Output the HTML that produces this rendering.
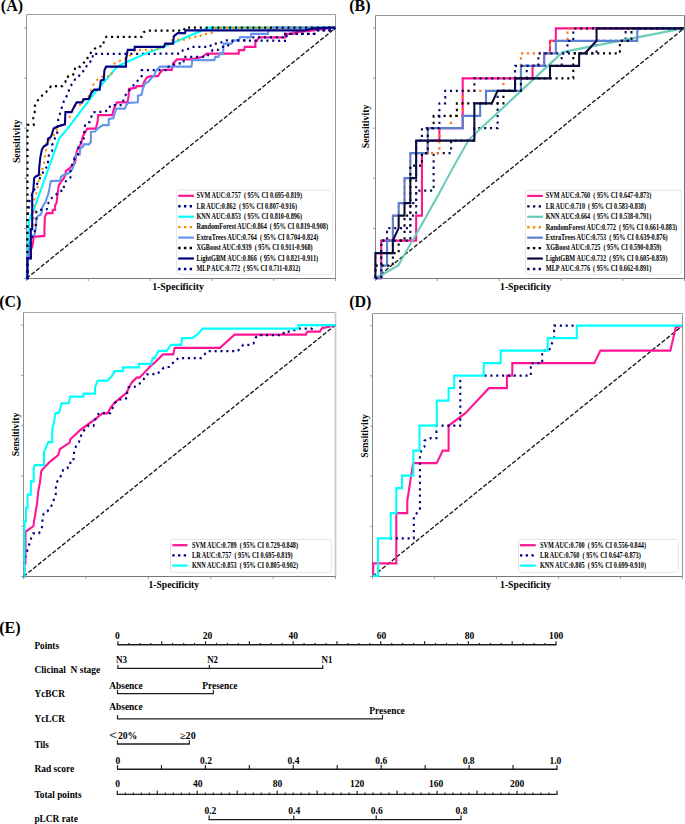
<!DOCTYPE html><html><head><meta charset="utf-8"><style>html,body{margin:0;padding:0;background:#fff;width:685px;height:824px;overflow:hidden}svg{display:block}text{font-family:'Liberation Serif',serif;font-weight:bold}</style></head><body>
<svg width="685" height="824" viewBox="0 0 685 824">
<rect width="685" height="824" fill="#fff"/>
<path d="M26.5,14.5 L335.5,14.5" fill="none" stroke="#a0a0a0" stroke-width="1"/>
<path d="M335.5,14.5 L335.5,278.5" fill="none" stroke="#999" stroke-width="1.0"/>
<path d="M26.5,278.5 L26.5,14.5" fill="none" stroke="#999" stroke-width="1"/>
<path d="M26.5,278.5 L335.5,278.5" fill="none" stroke="#777" stroke-width="1.1"/>
<path d="M24.0,278.50 L26.5,278.50" stroke="#888" stroke-width="0.8"/>
<path d="M24.0,228.40 L26.5,228.40" stroke="#888" stroke-width="0.8"/>
<path d="M24.0,178.30 L26.5,178.30" stroke="#888" stroke-width="0.8"/>
<path d="M24.0,128.20 L26.5,128.20" stroke="#888" stroke-width="0.8"/>
<path d="M24.0,78.10 L26.5,78.10" stroke="#888" stroke-width="0.8"/>
<path d="M24.0,28.00 L26.5,28.00" stroke="#888" stroke-width="0.8"/>
<path d="M26.50,278.5 L26.50,281.0" stroke="#888" stroke-width="0.8"/>
<path d="M88.30,278.5 L88.30,281.0" stroke="#888" stroke-width="0.8"/>
<path d="M150.10,278.5 L150.10,281.0" stroke="#888" stroke-width="0.8"/>
<path d="M211.90,278.5 L211.90,281.0" stroke="#888" stroke-width="0.8"/>
<path d="M273.70,278.5 L273.70,281.0" stroke="#888" stroke-width="0.8"/>
<path d="M335.50,278.5 L335.50,281.0" stroke="#888" stroke-width="0.8"/>
<path d="M26.5,278.5 L335.5,28.0" stroke="#111" stroke-width="1.3" stroke-dasharray="4.3,1.9" fill="none"/>
<path d="M375.5,15.5 L684.5,15.5" fill="none" stroke="#9a9696" stroke-width="1"/>
<path d="M684.5,15.5 L684.5,278.5" fill="none" stroke="#747070" stroke-width="1.0"/>
<path d="M375.5,278.5 L375.5,15.5" fill="none" stroke="#8a8686" stroke-width="1"/>
<path d="M375.5,278.5 L684.5,278.5" fill="none" stroke="#777" stroke-width="1.1"/>
<path d="M373.0,278.50 L375.5,278.50" stroke="#888" stroke-width="0.8"/>
<path d="M373.0,228.40 L375.5,228.40" stroke="#888" stroke-width="0.8"/>
<path d="M373.0,178.30 L375.5,178.30" stroke="#888" stroke-width="0.8"/>
<path d="M373.0,128.20 L375.5,128.20" stroke="#888" stroke-width="0.8"/>
<path d="M373.0,78.10 L375.5,78.10" stroke="#888" stroke-width="0.8"/>
<path d="M373.0,28.00 L375.5,28.00" stroke="#888" stroke-width="0.8"/>
<path d="M375.50,278.5 L375.50,281.0" stroke="#888" stroke-width="0.8"/>
<path d="M437.30,278.5 L437.30,281.0" stroke="#888" stroke-width="0.8"/>
<path d="M499.10,278.5 L499.10,281.0" stroke="#888" stroke-width="0.8"/>
<path d="M560.90,278.5 L560.90,281.0" stroke="#888" stroke-width="0.8"/>
<path d="M622.70,278.5 L622.70,281.0" stroke="#888" stroke-width="0.8"/>
<path d="M684.50,278.5 L684.50,281.0" stroke="#888" stroke-width="0.8"/>
<path d="M375.5,278.5 L684.5,28.0" stroke="#111" stroke-width="1.3" stroke-dasharray="4.3,1.9" fill="none"/>
<path d="M23.5,312.5 L335.5,312.5" fill="none" stroke="#aaa" stroke-width="1"/>
<path d="M335.5,312.5 L335.5,576.5" fill="none" stroke="#cacaca" stroke-width="1.8"/>
<path d="M23.5,576.5 L23.5,312.5" fill="none" stroke="#909090" stroke-width="1"/>
<path d="M23.5,576.5 L335.5,576.5" fill="none" stroke="#777" stroke-width="1.1"/>
<path d="M21.0,576.50 L23.5,576.50" stroke="#888" stroke-width="0.8"/>
<path d="M21.0,526.20 L23.5,526.20" stroke="#888" stroke-width="0.8"/>
<path d="M21.0,475.90 L23.5,475.90" stroke="#888" stroke-width="0.8"/>
<path d="M21.0,425.60 L23.5,425.60" stroke="#888" stroke-width="0.8"/>
<path d="M21.0,375.30 L23.5,375.30" stroke="#888" stroke-width="0.8"/>
<path d="M21.0,325.00 L23.5,325.00" stroke="#888" stroke-width="0.8"/>
<path d="M23.50,576.5 L23.50,579.0" stroke="#888" stroke-width="0.8"/>
<path d="M85.90,576.5 L85.90,579.0" stroke="#888" stroke-width="0.8"/>
<path d="M148.30,576.5 L148.30,579.0" stroke="#888" stroke-width="0.8"/>
<path d="M210.70,576.5 L210.70,579.0" stroke="#888" stroke-width="0.8"/>
<path d="M273.10,576.5 L273.10,579.0" stroke="#888" stroke-width="0.8"/>
<path d="M335.50,576.5 L335.50,579.0" stroke="#888" stroke-width="0.8"/>
<path d="M23.5,576.5 L335.5,325.0" stroke="#111" stroke-width="1.3" stroke-dasharray="4.3,1.9" fill="none"/>
<path d="M372.5,313.5 L682.5,313.5" fill="none" stroke="#999" stroke-width="1"/>
<path d="M682.5,313.5 L682.5,576.5" fill="none" stroke="#999" stroke-width="1.1"/>
<path d="M372.5,576.5 L372.5,313.5" fill="none" stroke="#888" stroke-width="1"/>
<path d="M372.5,576.5 L682.5,576.5" fill="none" stroke="#777" stroke-width="1.1"/>
<path d="M370.0,576.50 L372.5,576.50" stroke="#888" stroke-width="0.8"/>
<path d="M370.0,526.34 L372.5,526.34" stroke="#888" stroke-width="0.8"/>
<path d="M370.0,476.18 L372.5,476.18" stroke="#888" stroke-width="0.8"/>
<path d="M370.0,426.02 L372.5,426.02" stroke="#888" stroke-width="0.8"/>
<path d="M370.0,375.86 L372.5,375.86" stroke="#888" stroke-width="0.8"/>
<path d="M370.0,325.70 L372.5,325.70" stroke="#888" stroke-width="0.8"/>
<path d="M372.50,576.5 L372.50,579.0" stroke="#888" stroke-width="0.8"/>
<path d="M434.50,576.5 L434.50,579.0" stroke="#888" stroke-width="0.8"/>
<path d="M496.50,576.5 L496.50,579.0" stroke="#888" stroke-width="0.8"/>
<path d="M558.50,576.5 L558.50,579.0" stroke="#888" stroke-width="0.8"/>
<path d="M620.50,576.5 L620.50,579.0" stroke="#888" stroke-width="0.8"/>
<path d="M682.50,576.5 L682.50,579.0" stroke="#888" stroke-width="0.8"/>
<path d="M372.5,576.5 L682.5,325.7" stroke="#111" stroke-width="1.3" stroke-dasharray="4.3,1.9" fill="none"/>
<text x="0.8" y="10.6" font-size="16" text-anchor="start" fill="#000">(A)</text>
<text x="349.2" y="10.7" font-size="16" text-anchor="start" fill="#000">(B)</text>
<text x="-0.8" y="306.8" font-size="16" text-anchor="start" fill="#000">(C)</text>
<text x="349.2" y="306.7" font-size="16" text-anchor="start" fill="#000">(D)</text>
<text x="-0.8" y="632.7" font-size="16" text-anchor="start" fill="#000">(E)</text>
<text x="178.0" y="289.7" font-size="10" text-anchor="middle" fill="#000" textLength="51.599999999999994" lengthAdjust="spacingAndGlyphs">1-Specificity</text>
<text x="0" y="0" font-size="10.3" text-anchor="middle" fill="#000" textLength="43.6" lengthAdjust="spacingAndGlyphs" transform="translate(20.3,141.3) rotate(-90)">Sensitivity</text>
<text x="525.6" y="289.7" font-size="10" text-anchor="middle" fill="#000" textLength="51.099999999999994" lengthAdjust="spacingAndGlyphs">1-Specificity</text>
<text x="0" y="0" font-size="10.3" text-anchor="middle" fill="#000" textLength="43.6" lengthAdjust="spacingAndGlyphs" transform="translate(368.5,126.4) rotate(-90)">Sensitivity</text>
<text x="173.8" y="588.3" font-size="10" text-anchor="middle" fill="#000" textLength="50.599999999999994" lengthAdjust="spacingAndGlyphs">1-Specificity</text>
<text x="0" y="0" font-size="10.3" text-anchor="middle" fill="#000" textLength="43.6" lengthAdjust="spacingAndGlyphs" transform="translate(18.6,434.4) rotate(-90)">Sensitivity</text>
<text x="525.6" y="588.3" font-size="10" text-anchor="middle" fill="#000" textLength="51.099999999999994" lengthAdjust="spacingAndGlyphs">1-Specificity</text>
<text x="0" y="0" font-size="10.3" text-anchor="middle" fill="#000" textLength="43.6" lengthAdjust="spacingAndGlyphs" transform="translate(367.8,435.9) rotate(-90)">Sensitivity</text>
<g transform="scale(0.914,1)">
<path d="M407.66,575.8 L408.32,575.8 L408.32,563.3 L433.59,563.3 L433.59,513.2 L445.62,513.2 L445.62,500.7 L451.75,464.5 L452.30,463.2 L477.68,463.2 L484.35,450.7 L490.81,450.7 L490.81,425.7 L509.19,413.2 L534.90,388.1 L554.60,388.1 L554.60,375.6 L560.50,375.6 L560.50,363.1 L650.22,363.1 L656.89,350.6 L733.48,350.6 L739.39,327.3 L746.83,325.6 " stroke="#ff1493" stroke-width="2.25" fill="none" stroke-linejoin="miter" stroke-miterlimit="4"/>
<path d="M426.70,538.3 L452.74,538.3 L452.74,516.2 L459.41,510.0 L459.41,452.8 L464.44,446.7 L464.44,440.6 L471.23,438.2 L477.46,438.2 L477.46,425.7 L503.61,425.7 L503.61,375.6 M530.09,375.6 L580.74,375.6 L580.74,363.1 L593.22,363.1 L593.22,350.6 L600.66,350.6 L606.24,338.1 L606.24,325.6 L631.84,325.6 " stroke="#000080" stroke-width="2.25" stroke-dasharray="2.3,4.1" fill="none" stroke-linejoin="miter"/>
<path d="M407.66,575.8 L413.57,575.8 L413.57,538.3 L427.46,538.3 L427.46,513.2 L433.59,513.2 L433.59,488.2 L439.82,488.2 L439.82,475.7 L452.30,475.7 L452.30,450.7 L458.97,450.7 L458.97,425.7 L477.90,425.7 L477.90,400.7 L490.81,400.7 L490.81,388.1 L496.94,388.1 L496.94,375.6 L529.32,375.6 L529.32,363.1 L547.81,363.1 L547.81,350.6 L599.23,350.6 L599.23,338.1 L631.07,338.1 L631.07,325.6 L746.83,325.6 " stroke="#00ffff" stroke-width="2.25" fill="none" stroke-linejoin="miter" stroke-miterlimit="4"/>
<path d="M25.82,576.0 L26.59,576.0 L26.59,566.0 L27.90,563.0 L27.90,531.6 L29.54,530.7 L33.15,528.4 L36.54,526.2 L37.20,521.3 L38.51,515.2 L39.17,510.4 L40.48,504.3 L41.79,492.1 L43.11,484.9 L43.44,484.1 L45.19,471.0 L48.14,467.7 L54.16,462.2 L63.68,455.1 L65.54,449.1 L76.26,442.6 L76.81,439.3 L87.96,430.0 L103.94,419.3 L111.93,413.4 L117.51,413.4 L121.55,406.9 L125.49,402.5 L138.29,393.0 L143.87,382.8 L149.45,377.7 L152.63,377.7 L156.67,374.0 L165.43,365.3 L169.58,362.4 L178.34,354.4 L189.50,354.4 L191.14,347.8 L240.70,347.8 L256.67,334.7 L334.79,334.7 L336.32,331.6 L350.00,331.6 L352.30,328.2 L359.08,326.8 L367.07,325.0 " stroke="#ff1493" stroke-width="2.25" fill="none" stroke-linejoin="miter" stroke-miterlimit="4"/>
<path d="M25.82,576.0 L26.59,576.0 L26.59,560.0 L29.21,552.9 L30.53,547.4 L32.49,543.2 L34.14,538.1 L36.21,533.4 L42.45,533.4 L45.19,529.8 L46.50,524.9 L46.50,518.3 L47.81,513.4 L52.19,511.0 L55.14,507.3 L57.77,503.7 L59.08,498.8 L61.05,494.0 L61.05,487.9 L62.47,481.9 L64.55,478.0 L67.83,474.8 L69.04,469.9 L73.85,468.3 L75.05,463.3 L80.42,462.0 L80.42,455.1 L81.62,450.2 L83.37,445.9 L86.43,442.0 L88.18,437.7 L89.39,432.8 L93.00,429.5 L96.61,425.7 L102.41,425.8 L103.94,420.7 L105.58,415.6 L108.75,413.1 L120.79,413.1 L125.49,403.2 L128.77,400.0 L139.17,398.1 L139.17,392.3 L140.70,387.2 L147.16,386.9 L155.14,382.0 L158.32,377.7 L160.72,374.3 L171.99,374.1 L179.21,367.6 L185.56,366.8 L188.73,363.2 L195.19,358.1 L219.91,358.1 L227.13,351.2 L259.85,351.2 L266.19,344.9 L272.65,344.8 L277.46,343.4 L279.43,337.9 L282.49,335.1 L308.97,335.1 L311.27,331.6 L318.16,331.6 L326.04,328.5 L341.68,328.5 L345.73,325.0 L367.07,325.0 " stroke="#000080" stroke-width="2.25" stroke-dasharray="2.3,4.1" fill="none" stroke-linejoin="miter"/>
<path d="M25.82,576.0 L26.70,576.0 L26.70,521.3 L28.34,521.3 L28.34,507.5 L30.20,507.5 L30.20,494.6 L33.81,494.6 L33.81,481.4 L36.87,481.4 L36.87,468.8 L37.96,465.0 L48.14,465.0 L48.14,452.4 L50.55,447.0 L52.95,442.0 L57.11,442.0 L57.11,429.5 L58.97,422.9 L60.72,413.1 L64.00,413.1 L65.54,410.4 L67.29,403.3 L75.27,403.2 L76.81,396.6 L91.25,396.6 L91.25,393.7 L103.94,393.7 L103.94,387.2 L106.89,380.6 L117.51,380.6 L122.32,376.2 L125.49,371.1 L134.35,371.1 L134.35,367.4 L151.86,367.4 L151.86,363.8 L165.43,363.8 L167.07,358.0 L169.58,358.1 L173.52,350.8 L182.39,350.8 L187.20,344.9 L198.36,344.9 L199.12,338.1 L210.28,338.1 L216.74,334.0 L221.44,328.7 L326.48,328.6 L326.48,325.0 L367.07,325.0 " stroke="#00ffff" stroke-width="2.25" fill="none" stroke-linejoin="miter" stroke-miterlimit="4"/>
<path d="M29.21,278.0 L29.98,278.0 L29.98,258.0 L33.70,258.0 L33.70,250.0 L35.34,246.6 L36.11,243.0 L36.87,236.9 L48.58,235.9 L48.58,229.1 L49.12,216.5 L51.20,213.1 L57.55,213.1 L57.55,210.2 L60.28,209.7 L60.28,205.3 L61.82,202.9 L63.13,193.4 L64.22,185.7 L66.52,182.1 L69.26,179.0 L71.55,175.0 L72.10,170.9 L75.49,168.8 L82.17,162.7 L83.26,154.5 L84.35,150.4 L88.84,143.3 L90.59,136.1 L93.33,132.0 L95.62,128.5 L104.81,128.5 L106.78,121.5 L107.44,115.1 L122.76,115.1 L124.62,108.7 L127.90,102.3 L139.39,102.3 L140.59,97.0 L141.03,88.9 L148.69,87.7 L149.34,86.0 L156.35,86.0 L157.55,82.0 L160.83,77.2 L165.21,76.1 L172.98,76.1 L174.29,73.7 L177.90,69.9 L187.96,69.9 L189.39,63.4 L193.76,59.4 L209.52,59.4 L221.77,56.8 L226.04,53.5 L261.27,53.5 L261.27,50.2 L267.07,50.2 L267.72,46.9 L279.43,46.9 L279.43,40.8 L281.18,40.8 L283.26,37.3 L312.04,37.3 L312.04,33.9 L321.12,33.9 L321.12,32.5 L342.45,30.4 L366.74,27.5 " stroke="#ff1493" stroke-width="2.25" fill="none" stroke-linejoin="miter" stroke-miterlimit="4"/>
<path d="M29.21,278.0 L29.98,278.0 L29.98,225.0 L30.53,214.6 L31.62,209.7 L31.62,202.9 L33.48,198.0 L36.11,192.0 L39.72,185.7 L43.76,178.0 L49.12,168.8 L52.52,165.8 L52.52,159.6 L53.61,154.5 L57.00,150.9 L57.00,145.3 L60.18,138.0 L63.13,131.5 L63.68,119.3 L65.43,114.2 L67.07,109.0 L68.93,104.0 L70.46,99.3 L73.19,95.8 L74.95,91.7 L76.59,86.6 L79.32,83.5 L82.17,79.4 L85.56,77.4 L88.29,72.8 L92.23,70.7 L94.42,66.6 L96.72,63.1 L101.42,59.7 L101.42,53.9 L197.37,53.7 L200.22,50.2 L205.91,48.9 L209.52,46.9 L228.99,46.9 L232.60,43.7 L239.06,43.7 L246.94,40.4 L270.68,40.4 L270.68,37.3 L312.04,37.3 L312.04,33.9 L345.40,33.9 L346.94,30.4 L364.33,30.4 L366.74,27.5 " stroke="#000080" stroke-width="2.25" stroke-dasharray="2.3,4.1" fill="none" stroke-linejoin="miter"/>
<path d="M29.21,278.0 L29.76,265.0 L30.53,248.5 L31.62,222.3 L33.92,215.0 L36.87,210.0 L64.88,138.2 L73.19,129.5 L102.84,93.7 L128.23,66.7 L139.72,61.5 L160.18,53.3 L181.84,45.7 L222.54,29.9 L228.99,27.5 L366.74,27.5 " stroke="#00ffff" stroke-width="2.25" fill="none" stroke-linejoin="miter" stroke-miterlimit="4"/>
<path d="M29.21,278.0 L29.98,278.0 L29.98,258.0 L33.70,258.0 L33.70,229.0 L36.87,225.0 L36.87,201.5 L38.29,197.0 L40.59,191.8 L41.36,185.7 L42.12,181.0 L44.09,176.0 L45.84,170.9 L47.48,165.3 L49.12,160.1 L49.12,154.0 L50.66,148.9 L50.33,142.3 L54.16,139.7 L58.64,135.6 L60.94,130.5 L67.61,124.4 L73.74,118.8 L77.68,115.7 L81.07,106.0 L86.65,106.0 L93.00,99.3 L96.94,96.5 L102.63,83.7 L109.08,77.2 L115.43,76.1 L121.88,76.1 L122.43,70.2 L122.43,63.8 L128.23,63.2 L132.06,60.3 L141.03,56.8 L144.20,53.3 L147.37,50.4 L153.17,49.8 L166.52,49.8 L181.84,46.9 L187.96,40.4 L195.19,39.7 L201.64,39.7 L205.91,38.4 L212.47,36.8 L218.16,36.8 L221.77,33.8 L228.23,33.8 L232.60,32.5 L236.32,27.5 L366.74,27.5 " stroke="#ff8c00" stroke-width="2.25" stroke-dasharray="2.3,4.1" fill="none" stroke-linejoin="miter"/>
<path d="M29.21,278.0 L29.98,278.0 L29.98,258.0 L31.18,254.0 L31.73,250.0 L33.70,240.0 L35.34,235.9 L37.75,235.0 L39.06,229.1 L40.04,217.5 L42.23,215.5 L44.86,214.5 L45.95,210.7 L46.39,206.8 L49.12,202.9 L50.33,200.5 L53.06,193.4 L55.58,181.1 L65.97,180.6 L66.52,177.0 L69.26,175.0 L73.19,173.9 L74.95,173.0 L78.77,169.9 L81.07,164.5 L81.07,157.6 L83.81,154.5 L87.20,154.5 L87.75,148.4 L91.14,146.3 L91.14,144.3 L97.26,144.3 L99.45,142.0 L99.45,132.0 L104.27,131.5 L106.13,129.0 L112.47,125.0 L118.93,125.0 L118.93,119.2 L124.07,118.0 L125.93,112.2 L127.24,108.7 L136.76,108.7 L138.07,105.2 L140.04,102.8 L150.88,102.3 L150.88,95.8 L155.03,94.7 L155.91,90.0 L157.33,86.5 L158.86,83.1 L161.93,82.0 L165.32,78.4 L169.15,74.9 L170.35,71.4 L174.84,66.7 L209.52,66.6 L210.28,60.1 L234.68,60.1 L235.45,56.8 L239.06,56.8 L240.48,53.5 L243.98,53.5 L244.75,43.7 L253.39,43.7 L254.81,40.4 L261.27,40.4 L262.69,37.1 L274.84,37.1 L274.84,33.9 L293.11,33.9 L293.76,30.5 L296.50,27.5 L366.74,27.5 " stroke="#6495ed" stroke-width="2.25" fill="none" stroke-linejoin="miter" stroke-miterlimit="4"/>
<path d="M29.21,278.0 L30.09,278.0 L30.09,124.9 L36.87,124.9 L36.32,118.2 L37.96,113.1 L37.96,106.5 L39.72,101.9 L43.00,98.8 L46.39,95.3 L49.78,92.7 L53.06,89.6 L55.91,86.1 L68.16,86.1 L71.55,82.0 L72.65,76.9 L78.77,75.8 L81.62,72.8 L82.17,67.2 L87.75,66.6 L91.14,63.1 L94.97,60.5 L96.28,56.2 L102.08,49.8 L106.46,46.9 L112.91,45.7 L113.57,41.0 L116.08,36.9 L155.03,36.9 L157.00,32.3 L161.49,30.5 L200.98,30.5 L202.41,27.5 L366.74,27.5 " stroke="#000000" stroke-width="2.25" stroke-dasharray="2.3,4.1" fill="none" stroke-linejoin="miter"/>
<path d="M29.21,278.0 L29.98,278.0 L29.98,258.3 L33.70,258.3 L33.70,229.0 L35.23,229.0 L35.23,193.4 L36.32,191.3 L37.42,178.0 L39.17,176.5 L42.45,175.0 L43.00,166.8 L44.09,157.6 L45.84,149.4 L48.03,146.4 L51.97,144.3 L52.52,138.7 L55.36,137.2 L56.46,135.1 L58.64,128.5 L63.13,126.4 L71.01,124.4 L71.55,112.1 L78.23,112.1 L79.87,109.0 L83.81,102.4 L89.93,102.4 L91.14,99.3 L97.26,98.8 L100.00,92.7 L103.28,89.5 L109.08,89.5 L110.28,80.7 L113.57,79.6 L114.22,70.2 L116.08,66.7 L137.86,66.7 L137.86,59.7 L139.72,49.8 L147.37,49.8 L147.37,46.9 L179.32,46.9 L180.63,43.6 L189.39,43.6 L190.15,36.4 L194.42,33.1 L202.41,33.1 L203.06,30.3 L333.26,30.4 L343.87,28.3 L366.74,27.5 " stroke="#000080" stroke-width="2.25" fill="none" stroke-linejoin="miter" stroke-miterlimit="4"/>
<path d="M29.21,278.0 L29.98,278.0 L29.98,258.0 L33.70,258.0 L33.70,240.0 L36.11,235.0 L39.06,229.1 L40.04,217.5 L39.82,211.2 L45.19,209.7 L51.20,209.2 L52.30,204.4 L54.16,200.0 L58.10,196.9 L61.49,194.4 L64.88,191.3 L69.91,190.3 L69.91,183.6 L73.19,180.1 L77.13,177.5 L77.13,171.0 L79.87,161.2 L82.60,157.6 L85.56,154.0 L85.56,148.0 L87.20,142.8 L91.68,141.2 L91.68,135.1 L93.33,123.9 L98.36,121.8 L100.00,116.7 L101.64,112.2 L114.44,111.6 L118.93,109.9 L120.79,105.2 L133.59,105.2 L134.90,100.5 L136.76,95.8 L139.72,92.4 L145.51,86.0 L148.69,82.5 L152.52,79.0 L155.03,76.1 L155.03,70.2 L183.81,70.2 L184.35,66.6 L193.76,63.4 L200.98,63.4 L200.98,56.8 L226.04,56.8 L228.99,53.5 L232.60,50.2 L239.06,49.6 L242.67,46.9 L248.36,46.9 L251.20,43.7 L255.58,40.4 L313.57,40.8 L313.57,33.9 L345.40,33.9 L346.94,30.4 L364.33,30.4 L366.74,27.5 " stroke="#00008b" stroke-width="2.25" stroke-dasharray="2.3,4.1" fill="none" stroke-linejoin="miter"/>
<path d="M410.72,278.0 L417.09,278.0 L417.09,240.6 L455.30,240.6 L455.30,215.6 L461.66,215.6 L461.66,153.2 L468.03,153.2 L468.03,140.7 L480.77,140.7 L480.77,128.2 L506.24,128.2 L506.24,78.3 L582.65,78.3 L582.65,65.8 L595.38,65.8 L595.38,53.4 L601.75,53.4 L601.75,40.9 L608.12,40.9 L608.12,28.4 L748.21,28.4 " stroke="#ff1493" stroke-width="2.25" fill="none" stroke-linejoin="miter" stroke-miterlimit="4"/>
<path d="M410.72,278.0 L417.09,278.0 L417.09,240.6 L448.93,240.6 L448.93,203.1 L455.30,203.1 L455.30,190.6 L474.40,190.6 L474.40,153.2 L493.50,153.2 L493.50,140.7 L518.97,140.7 L518.97,128.2 L544.44,128.2 L544.44,90.8 L563.54,90.8 L563.54,78.3 L576.28,78.3 L576.28,65.8 L614.49,65.8 L614.49,53.4 L652.69,53.4 L652.69,40.9 L684.53,40.9 L684.53,28.4 L748.21,28.4 " stroke="#0a0a50" stroke-width="2.25" stroke-dasharray="2.3,4.1" fill="none" stroke-linejoin="miter"/>
<path d="M410.83,278.0 L417.51,274.9 L435.78,265.3 L443.44,253.0 L462.58,222.6 L481.40,191.8 L494.20,170.0 L513.13,139.5 L568.93,91.8 L615.21,52.4 L629.10,49.7 L748.91,28.2 " stroke="#6ccbb9" stroke-width="2.25" fill="none" stroke-linejoin="miter" stroke-miterlimit="4"/>
<path d="M410.72,278.0 L410.72,253.0 L429.82,253.0 L429.82,215.6 L436.19,215.6 L436.19,203.1 L442.56,203.1 L442.56,178.2 L448.93,178.2 L448.93,153.2 L480.77,153.2 L480.77,128.2 L493.50,128.2 L493.50,115.8 L506.24,115.8 L506.24,90.8 L550.81,90.8 L550.81,78.3 L569.91,78.3 L569.91,53.4 L601.75,53.4 L601.75,40.9 L620.85,40.9 L620.85,28.4 L748.21,28.4 " stroke="#ff7010" stroke-width="2.25" stroke-dasharray="2.3,4.1" fill="none" stroke-linejoin="miter"/>
<path d="M410.72,278.0 L417.09,278.0 L417.09,265.5 L423.46,265.5 L423.46,240.6 L429.82,240.6 L429.82,215.6 L436.19,215.6 L436.19,203.1 L442.56,203.1 L442.56,178.2 L448.93,178.2 L448.93,153.2 L468.03,153.2 L468.03,128.2 L506.24,128.2 L506.24,115.8 L525.34,115.8 L525.34,103.3 L531.71,103.3 L531.71,90.8 L569.91,90.8 L569.91,65.8 L595.38,65.8 L595.38,53.4 L608.12,53.4 L608.12,40.9 L697.26,40.9 L697.26,28.4 L748.21,28.4 " stroke="#5b7fd0" stroke-width="2.25" fill="none" stroke-linejoin="miter" stroke-miterlimit="4"/>
<path d="M410.72,278.0 L410.72,265.5 L429.82,265.5 L429.82,253.0 L436.19,253.0 L436.19,240.6 L442.56,240.6 L442.56,215.6 L448.93,215.6 L448.93,165.7 L461.66,165.7 L461.66,153.2 L468.03,153.2 L468.03,128.2 L474.40,128.2 L474.40,115.8 L499.87,115.8 L499.87,103.3 L550.81,103.3 L550.81,90.8 L569.91,90.8 L569.91,78.3 L627.22,78.3 L627.22,53.4 L678.16,53.4 L678.16,40.9 L690.90,40.9 L690.90,28.4 L748.21,28.4 " stroke="#000000" stroke-width="2.25" stroke-dasharray="2.3,4.1" fill="none" stroke-linejoin="miter"/>
<path d="M410.72,278.0 L410.72,253.0 L429.82,253.0 L429.82,240.6 L436.19,228.1 L436.19,215.6 L442.56,215.6 L442.56,203.1 L448.93,203.1 L448.93,178.2 L455.30,178.2 L455.30,140.7 L518.97,140.7 L518.97,103.3 L538.07,103.3 L544.44,90.8 L563.54,90.8 L563.54,78.3 L601.75,78.3 L601.75,65.8 L633.59,65.8 L633.59,53.4 L639.96,53.4 L652.69,40.9 L652.69,28.4 L748.21,28.4 " stroke="#0b0b3b" stroke-width="2.25" fill="none" stroke-linejoin="miter" stroke-miterlimit="4"/>
<path d="M410.72,278.0 L417.09,278.0 L417.09,240.6 L423.46,240.6 L423.46,228.1 L448.93,228.1 L448.93,215.6 L455.30,215.6 L455.30,140.7 L461.66,140.7 L461.66,128.2 L480.77,128.2 L480.77,103.3 L487.13,103.3 L487.13,90.8 L518.97,90.8 L518.97,78.3 L563.54,78.3 L563.54,65.8 L589.02,65.8 L589.02,53.4 L620.85,53.4 L620.85,40.9 L627.22,40.9 L627.22,28.4 L748.21,28.4 " stroke="#0a0a60" stroke-width="2.25" stroke-dasharray="2.3,4.1" fill="none" stroke-linejoin="miter"/>
</g>
<rect x="176.7" y="190.0" width="155.7" height="84.39999999999998" rx="2" fill="#fff" stroke="#e4e4e4" stroke-width="1"/>
<path d="M178.2,195.8 L193.9,195.8" stroke="#ff1493" stroke-width="2.2" fill="none"/>
<text x="196.5" y="198.10" font-size="7.6" fill="#000" textLength="105.5" lengthAdjust="spacingAndGlyphs" xml:space="preserve">SVM AUC:0.757  ( 95% CI 0.695-0.819)</text>
<path d="M178.2,206.25 L193.9,206.25" stroke="#000080" stroke-width="2.4" stroke-dasharray="2.4,3.3" fill="none"/>
<text x="196.5" y="208.55" font-size="7.6" fill="#000" textLength="100.5" lengthAdjust="spacingAndGlyphs" xml:space="preserve">LR AUC:0.862  ( 95% CI 0.807-0.916)</text>
<path d="M178.2,216.7 L193.9,216.7" stroke="#00ffff" stroke-width="2.2" fill="none"/>
<text x="196.5" y="219.00" font-size="7.6" fill="#000" textLength="105.5" lengthAdjust="spacingAndGlyphs" xml:space="preserve">KNN AUC:0.853  ( 95% CI 0.810-0.896)</text>
<path d="M178.2,227.15 L193.9,227.15" stroke="#ff8c00" stroke-width="2.4" stroke-dasharray="2.4,3.3" fill="none"/>
<text x="196.5" y="229.45" font-size="7.6" fill="#000" textLength="131.5" lengthAdjust="spacingAndGlyphs" xml:space="preserve">RandomForest AUC:0.864  ( 95% CI 0.819-0.908)</text>
<path d="M178.2,237.6 L193.9,237.6" stroke="#6495ed" stroke-width="2.2" fill="none"/>
<text x="196.5" y="239.90" font-size="7.6" fill="#000" textLength="121.9" lengthAdjust="spacingAndGlyphs" xml:space="preserve">ExtraTrees AUC:0.764  ( 95% CI 0.704-0.824)</text>
<path d="M178.2,248.05 L193.9,248.05" stroke="#000000" stroke-width="2.4" stroke-dasharray="2.4,3.3" fill="none"/>
<text x="196.5" y="250.35" font-size="7.6" fill="#000" textLength="116.2" lengthAdjust="spacingAndGlyphs" xml:space="preserve">XGBoost AUC:0.939  ( 95% CI 0.911-0.968)</text>
<path d="M178.2,258.5 L193.9,258.5" stroke="#000080" stroke-width="2.2" fill="none"/>
<text x="196.5" y="260.80" font-size="7.6" fill="#000" textLength="121.6" lengthAdjust="spacingAndGlyphs" xml:space="preserve">LightGBM AUC:0.866  ( 95% CI 0.821-0.911)</text>
<path d="M178.2,268.95 L193.9,268.95" stroke="#00008b" stroke-width="2.4" stroke-dasharray="2.4,3.3" fill="none"/>
<text x="196.5" y="271.25" font-size="7.6" fill="#000" textLength="103.8" lengthAdjust="spacingAndGlyphs" xml:space="preserve">MLP AUC:0.772  ( 95% CI 0.711-0.832)</text>
<rect x="525.6" y="190.4" width="155.60000000000002" height="83.99999999999997" rx="2" fill="#fff" stroke="#e4e4e4" stroke-width="1"/>
<path d="M527.2,195.9 L542.9,195.9" stroke="#ff1493" stroke-width="2.2" fill="none"/>
<text x="545.8" y="198.20" font-size="7.6" fill="#000" textLength="105.5" lengthAdjust="spacingAndGlyphs" xml:space="preserve">SVM AUC:0.760  ( 95% CI 0.647-0.873)</text>
<path d="M527.2,206.34 L542.9,206.34" stroke="#0a0a50" stroke-width="2.4" stroke-dasharray="2.4,3.3" fill="none"/>
<text x="545.8" y="208.64" font-size="7.6" fill="#000" textLength="100.2" lengthAdjust="spacingAndGlyphs" xml:space="preserve">LR AUC:0.710  ( 95% CI 0.583-0.838)</text>
<path d="M527.2,216.78 L542.9,216.78" stroke="#66cdb8" stroke-width="2.2" fill="none"/>
<text x="545.8" y="219.08" font-size="7.6" fill="#000" textLength="105.5" lengthAdjust="spacingAndGlyphs" xml:space="preserve">KNN AUC:0.664  ( 95% CI 0.538-0.791)</text>
<path d="M527.2,227.22 L542.9,227.22" stroke="#ff8c00" stroke-width="2.4" stroke-dasharray="2.4,3.3" fill="none"/>
<text x="545.8" y="229.52" font-size="7.6" fill="#000" textLength="131.3" lengthAdjust="spacingAndGlyphs" xml:space="preserve">RandomForest AUC:0.772  ( 95% CI 0.661-0.883)</text>
<path d="M527.2,237.66 L542.9,237.66" stroke="#5b7fd0" stroke-width="2.2" fill="none"/>
<text x="545.8" y="239.96" font-size="7.6" fill="#000" textLength="121.9" lengthAdjust="spacingAndGlyphs" xml:space="preserve">ExtraTrees AUC:0.753  ( 95% CI 0.639-0.876)</text>
<path d="M527.2,248.1 L542.9,248.1" stroke="#000000" stroke-width="2.4" stroke-dasharray="2.4,3.3" fill="none"/>
<text x="545.8" y="250.40" font-size="7.6" fill="#000" textLength="115.6" lengthAdjust="spacingAndGlyphs" xml:space="preserve">XGBoost AUC:0.725  ( 95% CI 0.590-0.859)</text>
<path d="M527.2,258.54 L542.9,258.54" stroke="#0b0b3b" stroke-width="2.2" fill="none"/>
<text x="545.8" y="260.84" font-size="7.6" fill="#000" textLength="121.7" lengthAdjust="spacingAndGlyphs" xml:space="preserve">LightGBM AUC:0.732  ( 95% CI 0.605-0.859)</text>
<path d="M527.2,268.98 L542.9,268.98" stroke="#0a0a60" stroke-width="2.4" stroke-dasharray="2.4,3.3" fill="none"/>
<text x="545.8" y="271.28" font-size="7.6" fill="#000" textLength="105.5" lengthAdjust="spacingAndGlyphs" xml:space="preserve">MLP AUC:0.776  ( 95% CI 0.662-0.891)</text>
<rect x="170.5" y="539.4" width="160.8" height="33.0" rx="2" fill="#fff" stroke="#e4e4e4" stroke-width="1"/>
<path d="M172.3,545.2 L187.6,545.2" stroke="#ff1493" stroke-width="2.2" fill="none"/>
<text x="192.0" y="547.50" font-size="7.6" fill="#000" textLength="106.0" lengthAdjust="spacingAndGlyphs" xml:space="preserve">SVM AUC:0.789  ( 95% CI 0.729-0.848)</text>
<path d="M172.3,555.4 L187.6,555.4" stroke="#000080" stroke-width="2.4" stroke-dasharray="2.4,3.3" fill="none"/>
<text x="192.0" y="557.70" font-size="7.6" fill="#000" textLength="100.7" lengthAdjust="spacingAndGlyphs" xml:space="preserve">LR AUC:0.757  ( 95% CI 0.695-0.819)</text>
<path d="M172.3,565.6 L187.6,565.6" stroke="#00ffff" stroke-width="2.2" fill="none"/>
<text x="192.0" y="567.90" font-size="7.6" fill="#000" textLength="106.0" lengthAdjust="spacingAndGlyphs" xml:space="preserve">KNN AUC:0.853  ( 95% CI 0.805-0.902)</text>
<rect x="518.5" y="539.4" width="159.89999999999998" height="33.0" rx="2" fill="#fff" stroke="#e4e4e4" stroke-width="1"/>
<path d="M520.0,545.2 L535.7,545.2" stroke="#ff1493" stroke-width="2.2" fill="none"/>
<text x="540.0" y="547.50" font-size="7.6" fill="#000" textLength="106.0" lengthAdjust="spacingAndGlyphs" xml:space="preserve">SVM AUC:0.700  ( 95% CI 0.556-0.844)</text>
<path d="M520.0,555.4 L535.7,555.4" stroke="#000080" stroke-width="2.4" stroke-dasharray="2.4,3.3" fill="none"/>
<text x="540.0" y="557.70" font-size="7.6" fill="#000" textLength="100.8" lengthAdjust="spacingAndGlyphs" xml:space="preserve">LR AUC:0.760  ( 95% CI 0.647-0.873)</text>
<path d="M520.0,565.6 L535.7,565.6" stroke="#00ffff" stroke-width="2.2" fill="none"/>
<text x="540.0" y="567.90" font-size="7.6" fill="#000" textLength="106.0" lengthAdjust="spacingAndGlyphs" xml:space="preserve">KNN AUC:0.805  ( 95% CI 0.699-0.910)</text>
<text x="34.4" y="648.9" font-size="9.6" fill="#000" textLength="24.6" lengthAdjust="spacingAndGlyphs" xml:space="preserve">Points</text>
<text x="34.4" y="672.6" font-size="9.6" fill="#000" textLength="65.8" lengthAdjust="spacingAndGlyphs" xml:space="preserve">Clicinal  N stage</text>
<text x="34.4" y="696.6" font-size="9.6" fill="#000" textLength="30.6" lengthAdjust="spacingAndGlyphs" xml:space="preserve">YcBCR</text>
<text x="34.4" y="722.0" font-size="9.6" fill="#000" textLength="30.6" lengthAdjust="spacingAndGlyphs" xml:space="preserve">YcLCR</text>
<text x="34.4" y="747.6" font-size="9.6" fill="#000" textLength="14.4" lengthAdjust="spacingAndGlyphs" xml:space="preserve">Tils</text>
<text x="34.4" y="772.1" font-size="9.6" fill="#000" textLength="39.9" lengthAdjust="spacingAndGlyphs" xml:space="preserve">Rad score</text>
<text x="34.4" y="798.1" font-size="9.6" fill="#000" textLength="47.2" lengthAdjust="spacingAndGlyphs" xml:space="preserve">Total points</text>
<text x="34.4" y="821.9" font-size="9.6" fill="#000" textLength="43.4" lengthAdjust="spacingAndGlyphs" xml:space="preserve">pLCR rate</text>
<path d="M117.4,644.75 L556.5,644.75" stroke="#1c1c1c" stroke-width="1.35" fill="none"/>
<path d="M117.90,644.75 L117.90,641.25" stroke="#1c1c1c" stroke-width="1.15" fill="none"/>
<path d="M128.85,644.75 L128.85,642.95" stroke="#1c1c1c" stroke-width="1.15" fill="none"/>
<path d="M139.81,644.75 L139.81,642.95" stroke="#1c1c1c" stroke-width="1.15" fill="none"/>
<path d="M150.76,644.75 L150.76,642.95" stroke="#1c1c1c" stroke-width="1.15" fill="none"/>
<path d="M161.71,644.75 L161.71,641.25" stroke="#1c1c1c" stroke-width="1.15" fill="none"/>
<path d="M172.66,644.75 L172.66,642.95" stroke="#1c1c1c" stroke-width="1.15" fill="none"/>
<path d="M183.62,644.75 L183.62,642.95" stroke="#1c1c1c" stroke-width="1.15" fill="none"/>
<path d="M194.57,644.75 L194.57,642.95" stroke="#1c1c1c" stroke-width="1.15" fill="none"/>
<path d="M205.52,644.75 L205.52,641.25" stroke="#1c1c1c" stroke-width="1.15" fill="none"/>
<path d="M216.47,644.75 L216.47,642.95" stroke="#1c1c1c" stroke-width="1.15" fill="none"/>
<path d="M227.43,644.75 L227.43,642.95" stroke="#1c1c1c" stroke-width="1.15" fill="none"/>
<path d="M238.38,644.75 L238.38,642.95" stroke="#1c1c1c" stroke-width="1.15" fill="none"/>
<path d="M249.33,644.75 L249.33,641.25" stroke="#1c1c1c" stroke-width="1.15" fill="none"/>
<path d="M260.28,644.75 L260.28,642.95" stroke="#1c1c1c" stroke-width="1.15" fill="none"/>
<path d="M271.24,644.75 L271.24,642.95" stroke="#1c1c1c" stroke-width="1.15" fill="none"/>
<path d="M282.19,644.75 L282.19,642.95" stroke="#1c1c1c" stroke-width="1.15" fill="none"/>
<path d="M293.14,644.75 L293.14,641.25" stroke="#1c1c1c" stroke-width="1.15" fill="none"/>
<path d="M304.09,644.75 L304.09,642.95" stroke="#1c1c1c" stroke-width="1.15" fill="none"/>
<path d="M315.05,644.75 L315.05,642.95" stroke="#1c1c1c" stroke-width="1.15" fill="none"/>
<path d="M326.00,644.75 L326.00,642.95" stroke="#1c1c1c" stroke-width="1.15" fill="none"/>
<path d="M336.95,644.75 L336.95,641.25" stroke="#1c1c1c" stroke-width="1.15" fill="none"/>
<path d="M347.90,644.75 L347.90,642.95" stroke="#1c1c1c" stroke-width="1.15" fill="none"/>
<path d="M358.86,644.75 L358.86,642.95" stroke="#1c1c1c" stroke-width="1.15" fill="none"/>
<path d="M369.81,644.75 L369.81,642.95" stroke="#1c1c1c" stroke-width="1.15" fill="none"/>
<path d="M380.76,644.75 L380.76,641.25" stroke="#1c1c1c" stroke-width="1.15" fill="none"/>
<path d="M391.71,644.75 L391.71,642.95" stroke="#1c1c1c" stroke-width="1.15" fill="none"/>
<path d="M402.66,644.75 L402.66,642.95" stroke="#1c1c1c" stroke-width="1.15" fill="none"/>
<path d="M413.62,644.75 L413.62,642.95" stroke="#1c1c1c" stroke-width="1.15" fill="none"/>
<path d="M424.57,644.75 L424.57,641.25" stroke="#1c1c1c" stroke-width="1.15" fill="none"/>
<path d="M435.52,644.75 L435.52,642.95" stroke="#1c1c1c" stroke-width="1.15" fill="none"/>
<path d="M446.48,644.75 L446.48,642.95" stroke="#1c1c1c" stroke-width="1.15" fill="none"/>
<path d="M457.43,644.75 L457.43,642.95" stroke="#1c1c1c" stroke-width="1.15" fill="none"/>
<path d="M468.38,644.75 L468.38,641.25" stroke="#1c1c1c" stroke-width="1.15" fill="none"/>
<path d="M479.33,644.75 L479.33,642.95" stroke="#1c1c1c" stroke-width="1.15" fill="none"/>
<path d="M490.28,644.75 L490.28,642.95" stroke="#1c1c1c" stroke-width="1.15" fill="none"/>
<path d="M501.24,644.75 L501.24,642.95" stroke="#1c1c1c" stroke-width="1.15" fill="none"/>
<path d="M512.19,644.75 L512.19,641.25" stroke="#1c1c1c" stroke-width="1.15" fill="none"/>
<path d="M523.14,644.75 L523.14,642.95" stroke="#1c1c1c" stroke-width="1.15" fill="none"/>
<path d="M534.10,644.75 L534.10,642.95" stroke="#1c1c1c" stroke-width="1.15" fill="none"/>
<path d="M545.05,644.75 L545.05,642.95" stroke="#1c1c1c" stroke-width="1.15" fill="none"/>
<path d="M556.00,644.75 L556.00,641.25" stroke="#1c1c1c" stroke-width="1.15" fill="none"/>
<text x="117.30000000000001" y="639.0" font-size="9.5" text-anchor="middle" fill="#000">0</text>
<text x="207.42000000000002" y="639.0" font-size="9.5" text-anchor="middle" fill="#000">20</text>
<text x="293.24" y="639.0" font-size="9.5" text-anchor="middle" fill="#000">40</text>
<text x="381.46" y="639.0" font-size="9.5" text-anchor="middle" fill="#000">60</text>
<text x="469.38" y="639.0" font-size="9.5" text-anchor="middle" fill="#000">80</text>
<text x="556.0" y="639.0" font-size="9.5" text-anchor="middle" fill="#000">100</text>
<path d="M117.4,668.4 L323.2,668.4" stroke="#1c1c1c" stroke-width="1.35" fill="none"/>
<path d="M117.90,668.4 L117.90,665.10" stroke="#1c1c1c" stroke-width="1.15" fill="none"/>
<path d="M209.30,668.4 L209.30,665.10" stroke="#1c1c1c" stroke-width="1.15" fill="none"/>
<path d="M322.70,668.4 L322.70,665.10" stroke="#1c1c1c" stroke-width="1.15" fill="none"/>
<text x="116.0" y="662.5" font-size="9.5" text-anchor="start" fill="#000" textLength="11" lengthAdjust="spacingAndGlyphs">N3</text>
<text x="207.3" y="662.5" font-size="9.5" text-anchor="start" fill="#000" textLength="10.7" lengthAdjust="spacingAndGlyphs">N2</text>
<text x="321.6" y="662.5" font-size="9.5" text-anchor="start" fill="#000" textLength="10.9" lengthAdjust="spacingAndGlyphs">N1</text>
<path d="M117.0,693.6 L213.9,693.6" stroke="#1c1c1c" stroke-width="1.35" fill="none"/>
<path d="M117.50,693.6 L117.50,690.00" stroke="#1c1c1c" stroke-width="1.15" fill="none"/>
<path d="M213.40,693.6 L213.40,690.00" stroke="#1c1c1c" stroke-width="1.15" fill="none"/>
<text x="109.2" y="688.6" font-size="9.5" text-anchor="start" fill="#000" textLength="33.5" lengthAdjust="spacingAndGlyphs">Absence</text>
<text x="202.3" y="688.6" font-size="9.5" text-anchor="start" fill="#000" textLength="35.2" lengthAdjust="spacingAndGlyphs">Presence</text>
<path d="M117.0,718.9 L383.0,718.9" stroke="#1c1c1c" stroke-width="1.35" fill="none"/>
<path d="M117.50,718.9 L117.50,715.10" stroke="#1c1c1c" stroke-width="1.15" fill="none"/>
<path d="M382.50,718.9 L382.50,715.10" stroke="#1c1c1c" stroke-width="1.15" fill="none"/>
<text x="109.2" y="710.0" font-size="9.5" text-anchor="start" fill="#000" textLength="33.5" lengthAdjust="spacingAndGlyphs">Absence</text>
<text x="369.3" y="714.2" font-size="9.5" text-anchor="start" fill="#000" textLength="35.5" lengthAdjust="spacingAndGlyphs">Presence</text>
<path d="M117.0,744.0 L189.8,744.0" stroke="#1c1c1c" stroke-width="1.35" fill="none"/>
<path d="M117.50,744.0 L117.50,740.30" stroke="#1c1c1c" stroke-width="1.15" fill="none"/>
<path d="M189.30,744.0 L189.30,740.30" stroke="#1c1c1c" stroke-width="1.15" fill="none"/>
<path d="M116.4,732.6 L109.9,735.2 L116.4,737.8" stroke="#222" stroke-width="0.9" fill="none"/>
<text x="117.9" y="738.5" font-size="9.5" text-anchor="start" fill="#000" textLength="19.4" lengthAdjust="spacingAndGlyphs">20%</text>
<text x="180.0" y="738.5" font-size="9.5" text-anchor="start" fill="#000" textLength="15.7" lengthAdjust="spacingAndGlyphs">≥20</text>
<path d="M117.0,769.2 L557.5,769.2" stroke="#1c1c1c" stroke-width="1.35" fill="none"/>
<path d="M117.50,769.2 L117.50,765.10" stroke="#1c1c1c" stroke-width="1.15" fill="none"/>
<path d="M161.45,769.2 L161.45,765.10" stroke="#1c1c1c" stroke-width="1.15" fill="none"/>
<path d="M205.40,769.2 L205.40,765.10" stroke="#1c1c1c" stroke-width="1.15" fill="none"/>
<path d="M249.35,769.2 L249.35,765.10" stroke="#1c1c1c" stroke-width="1.15" fill="none"/>
<path d="M293.30,769.2 L293.30,765.10" stroke="#1c1c1c" stroke-width="1.15" fill="none"/>
<path d="M337.25,769.2 L337.25,765.10" stroke="#1c1c1c" stroke-width="1.15" fill="none"/>
<path d="M381.20,769.2 L381.20,765.10" stroke="#1c1c1c" stroke-width="1.15" fill="none"/>
<path d="M425.15,769.2 L425.15,765.10" stroke="#1c1c1c" stroke-width="1.15" fill="none"/>
<path d="M469.10,769.2 L469.10,765.10" stroke="#1c1c1c" stroke-width="1.15" fill="none"/>
<path d="M513.05,769.2 L513.05,765.10" stroke="#1c1c1c" stroke-width="1.15" fill="none"/>
<path d="M557.00,769.2 L557.00,765.10" stroke="#1c1c1c" stroke-width="1.15" fill="none"/>
<text x="117.75" y="763.6" font-size="9.5" text-anchor="middle" fill="#000">0</text>
<text x="206.0" y="763.6" font-size="9.5" text-anchor="middle" fill="#000">0.2</text>
<text x="293.5" y="763.6" font-size="9.5" text-anchor="middle" fill="#000">0.4</text>
<text x="381.2" y="763.6" font-size="9.5" text-anchor="middle" fill="#000">0.6</text>
<text x="468.6" y="763.6" font-size="9.5" text-anchor="middle" fill="#000">0.8</text>
<text x="555.4" y="763.6" font-size="9.5" text-anchor="middle" fill="#000">1.0</text>
<path d="M116.8,794.3 L557.5,794.3" stroke="#1c1c1c" stroke-width="1.35" fill="none"/>
<path d="M117.30,794.3 L117.30,790.70" stroke="#1c1c1c" stroke-width="1.15" fill="none"/>
<path d="M125.29,794.3 L125.29,792.50" stroke="#1c1c1c" stroke-width="1.15" fill="none"/>
<path d="M133.29,794.3 L133.29,792.50" stroke="#1c1c1c" stroke-width="1.15" fill="none"/>
<path d="M141.28,794.3 L141.28,792.50" stroke="#1c1c1c" stroke-width="1.15" fill="none"/>
<path d="M149.28,794.3 L149.28,792.50" stroke="#1c1c1c" stroke-width="1.15" fill="none"/>
<path d="M157.27,794.3 L157.27,790.70" stroke="#1c1c1c" stroke-width="1.15" fill="none"/>
<path d="M165.27,794.3 L165.27,792.50" stroke="#1c1c1c" stroke-width="1.15" fill="none"/>
<path d="M173.26,794.3 L173.26,792.50" stroke="#1c1c1c" stroke-width="1.15" fill="none"/>
<path d="M181.26,794.3 L181.26,792.50" stroke="#1c1c1c" stroke-width="1.15" fill="none"/>
<path d="M189.25,794.3 L189.25,792.50" stroke="#1c1c1c" stroke-width="1.15" fill="none"/>
<path d="M197.25,794.3 L197.25,790.70" stroke="#1c1c1c" stroke-width="1.15" fill="none"/>
<path d="M205.24,794.3 L205.24,792.50" stroke="#1c1c1c" stroke-width="1.15" fill="none"/>
<path d="M213.23,794.3 L213.23,792.50" stroke="#1c1c1c" stroke-width="1.15" fill="none"/>
<path d="M221.23,794.3 L221.23,792.50" stroke="#1c1c1c" stroke-width="1.15" fill="none"/>
<path d="M229.22,794.3 L229.22,792.50" stroke="#1c1c1c" stroke-width="1.15" fill="none"/>
<path d="M237.22,794.3 L237.22,790.70" stroke="#1c1c1c" stroke-width="1.15" fill="none"/>
<path d="M245.21,794.3 L245.21,792.50" stroke="#1c1c1c" stroke-width="1.15" fill="none"/>
<path d="M253.21,794.3 L253.21,792.50" stroke="#1c1c1c" stroke-width="1.15" fill="none"/>
<path d="M261.20,794.3 L261.20,792.50" stroke="#1c1c1c" stroke-width="1.15" fill="none"/>
<path d="M269.20,794.3 L269.20,792.50" stroke="#1c1c1c" stroke-width="1.15" fill="none"/>
<path d="M277.19,794.3 L277.19,790.70" stroke="#1c1c1c" stroke-width="1.15" fill="none"/>
<path d="M285.19,794.3 L285.19,792.50" stroke="#1c1c1c" stroke-width="1.15" fill="none"/>
<path d="M293.18,794.3 L293.18,792.50" stroke="#1c1c1c" stroke-width="1.15" fill="none"/>
<path d="M301.17,794.3 L301.17,792.50" stroke="#1c1c1c" stroke-width="1.15" fill="none"/>
<path d="M309.17,794.3 L309.17,792.50" stroke="#1c1c1c" stroke-width="1.15" fill="none"/>
<path d="M317.16,794.3 L317.16,790.70" stroke="#1c1c1c" stroke-width="1.15" fill="none"/>
<path d="M325.16,794.3 L325.16,792.50" stroke="#1c1c1c" stroke-width="1.15" fill="none"/>
<path d="M333.15,794.3 L333.15,792.50" stroke="#1c1c1c" stroke-width="1.15" fill="none"/>
<path d="M341.15,794.3 L341.15,792.50" stroke="#1c1c1c" stroke-width="1.15" fill="none"/>
<path d="M349.14,794.3 L349.14,792.50" stroke="#1c1c1c" stroke-width="1.15" fill="none"/>
<path d="M357.14,794.3 L357.14,790.70" stroke="#1c1c1c" stroke-width="1.15" fill="none"/>
<path d="M365.13,794.3 L365.13,792.50" stroke="#1c1c1c" stroke-width="1.15" fill="none"/>
<path d="M373.13,794.3 L373.13,792.50" stroke="#1c1c1c" stroke-width="1.15" fill="none"/>
<path d="M381.12,794.3 L381.12,792.50" stroke="#1c1c1c" stroke-width="1.15" fill="none"/>
<path d="M389.11,794.3 L389.11,792.50" stroke="#1c1c1c" stroke-width="1.15" fill="none"/>
<path d="M397.11,794.3 L397.11,790.70" stroke="#1c1c1c" stroke-width="1.15" fill="none"/>
<path d="M405.10,794.3 L405.10,792.50" stroke="#1c1c1c" stroke-width="1.15" fill="none"/>
<path d="M413.10,794.3 L413.10,792.50" stroke="#1c1c1c" stroke-width="1.15" fill="none"/>
<path d="M421.09,794.3 L421.09,792.50" stroke="#1c1c1c" stroke-width="1.15" fill="none"/>
<path d="M429.09,794.3 L429.09,792.50" stroke="#1c1c1c" stroke-width="1.15" fill="none"/>
<path d="M437.08,794.3 L437.08,790.70" stroke="#1c1c1c" stroke-width="1.15" fill="none"/>
<path d="M445.08,794.3 L445.08,792.50" stroke="#1c1c1c" stroke-width="1.15" fill="none"/>
<path d="M453.07,794.3 L453.07,792.50" stroke="#1c1c1c" stroke-width="1.15" fill="none"/>
<path d="M461.07,794.3 L461.07,792.50" stroke="#1c1c1c" stroke-width="1.15" fill="none"/>
<path d="M469.06,794.3 L469.06,792.50" stroke="#1c1c1c" stroke-width="1.15" fill="none"/>
<path d="M477.05,794.3 L477.05,790.70" stroke="#1c1c1c" stroke-width="1.15" fill="none"/>
<path d="M485.05,794.3 L485.05,792.50" stroke="#1c1c1c" stroke-width="1.15" fill="none"/>
<path d="M493.04,794.3 L493.04,792.50" stroke="#1c1c1c" stroke-width="1.15" fill="none"/>
<path d="M501.04,794.3 L501.04,792.50" stroke="#1c1c1c" stroke-width="1.15" fill="none"/>
<path d="M509.03,794.3 L509.03,792.50" stroke="#1c1c1c" stroke-width="1.15" fill="none"/>
<path d="M517.03,794.3 L517.03,790.70" stroke="#1c1c1c" stroke-width="1.15" fill="none"/>
<path d="M525.02,794.3 L525.02,792.50" stroke="#1c1c1c" stroke-width="1.15" fill="none"/>
<path d="M533.02,794.3 L533.02,792.50" stroke="#1c1c1c" stroke-width="1.15" fill="none"/>
<path d="M541.01,794.3 L541.01,792.50" stroke="#1c1c1c" stroke-width="1.15" fill="none"/>
<path d="M549.01,794.3 L549.01,792.50" stroke="#1c1c1c" stroke-width="1.15" fill="none"/>
<path d="M557.00,794.3 L557.00,790.70" stroke="#1c1c1c" stroke-width="1.15" fill="none"/>
<text x="117.7" y="786.6" font-size="9.5" text-anchor="middle" fill="#000">0</text>
<text x="197.84545454545454" y="786.6" font-size="9.5" text-anchor="middle" fill="#000">40</text>
<text x="277.3909090909091" y="786.6" font-size="9.5" text-anchor="middle" fill="#000">80</text>
<text x="357.1363636363636" y="786.6" font-size="9.5" text-anchor="middle" fill="#000">120</text>
<text x="436.18181818181824" y="786.6" font-size="9.5" text-anchor="middle" fill="#000">160</text>
<text x="517.0272727272727" y="786.6" font-size="9.5" text-anchor="middle" fill="#000">200</text>
<path d="M208.6,819.6 L461.5,819.6" stroke="#1c1c1c" stroke-width="1.35" fill="none"/>
<path d="M209.10,819.6 L209.10,815.40" stroke="#1c1c1c" stroke-width="1.15" fill="none"/>
<path d="M293.80,819.6 L293.80,815.40" stroke="#1c1c1c" stroke-width="1.15" fill="none"/>
<path d="M376.20,819.6 L376.20,815.40" stroke="#1c1c1c" stroke-width="1.15" fill="none"/>
<path d="M461.00,819.6 L461.00,815.40" stroke="#1c1c1c" stroke-width="1.15" fill="none"/>
<text x="210.35" y="813.5" font-size="9.5" text-anchor="middle" fill="#000">0.2</text>
<text x="294.3" y="813.5" font-size="9.5" text-anchor="middle" fill="#000">0.4</text>
<text x="376.7" y="813.5" font-size="9.5" text-anchor="middle" fill="#000">0.6</text>
<text x="461.5" y="813.5" font-size="9.5" text-anchor="middle" fill="#000">0.8</text>
</svg></body></html>
